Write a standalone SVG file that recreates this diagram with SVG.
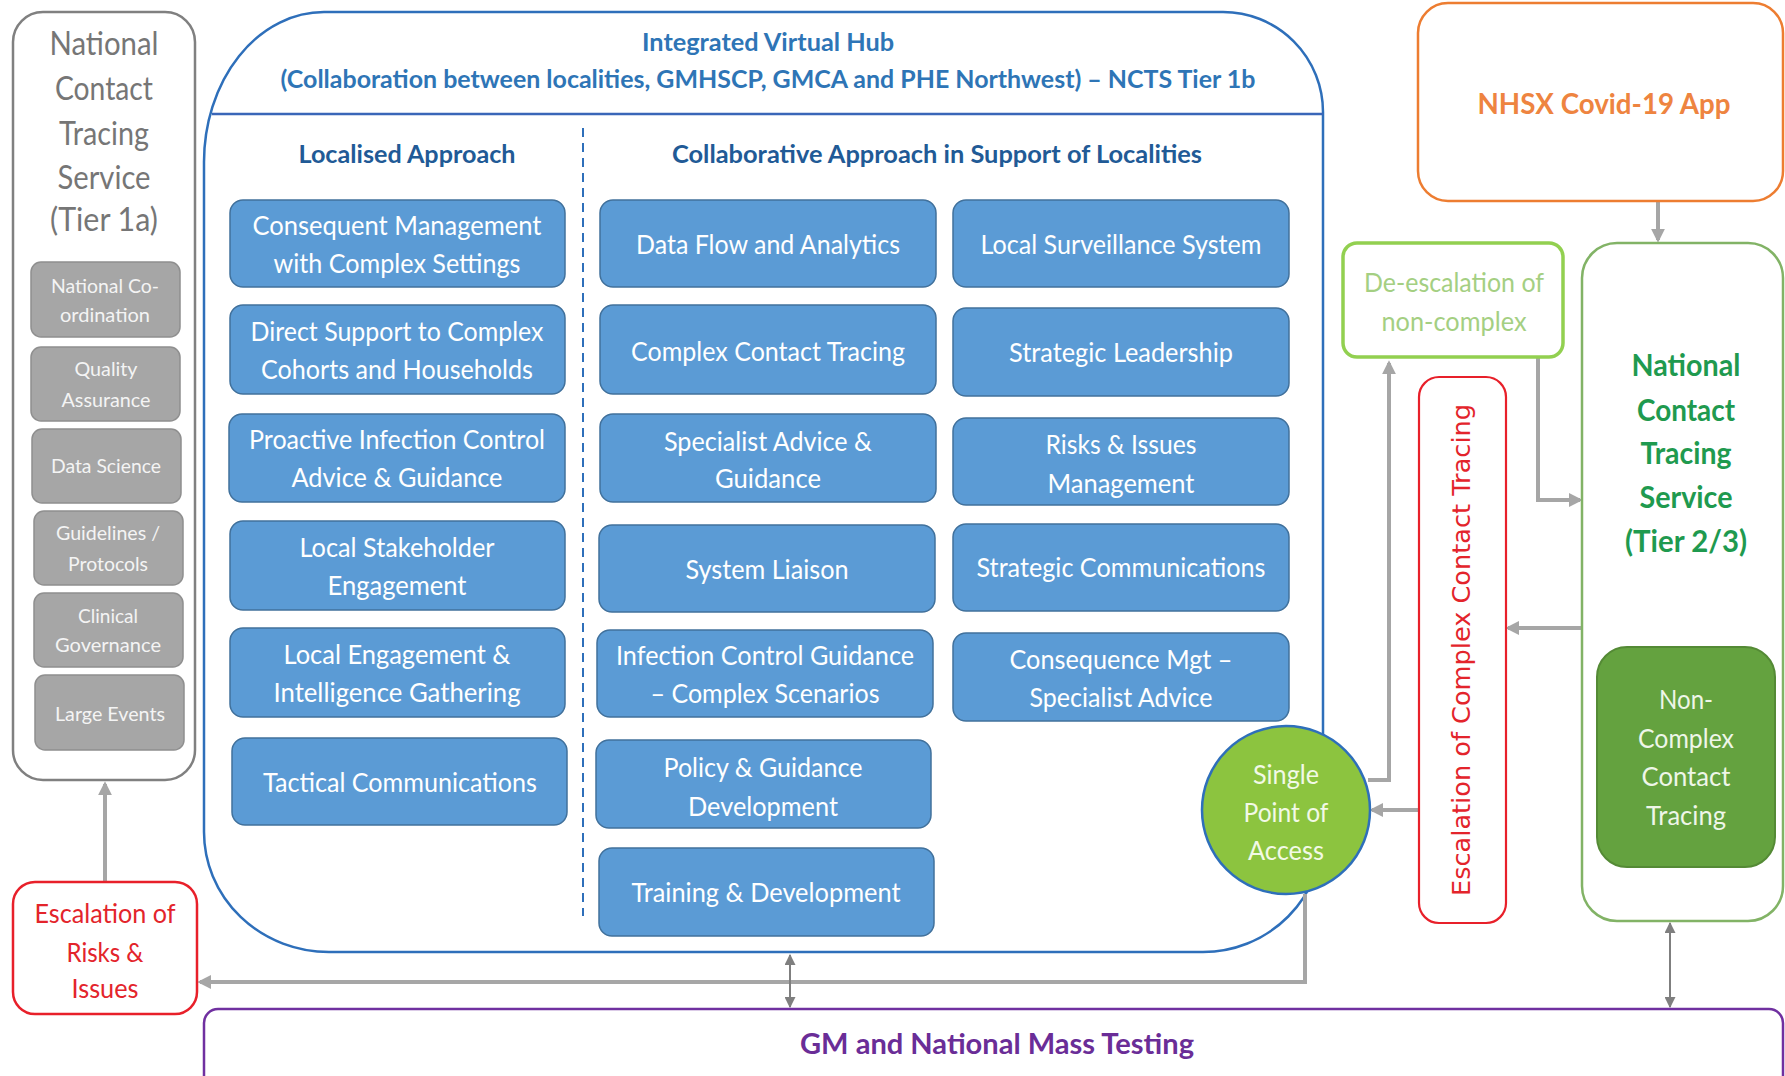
<svg xmlns="http://www.w3.org/2000/svg" width="1785" height="1076" viewBox="0 0 1785 1076">
<style>
  text { font-family: Lato, "Liberation Sans", sans-serif; text-anchor: middle; }
  .bt { font-size: 27.5px; fill: #ffffff; }
  .gt { font-size: 20px; fill: #f4f4f4; }
  .bb { fill: #5b9bd5; stroke: #41719c; stroke-width: 1.5; }
  .gb { fill: #a6a6a6; stroke: #8f8f8f; stroke-width: 1.5; }
  .hd { font-size: 25px; font-weight: bold; fill: #2e75b6; }
  .sh { font-size: 25px; font-weight: bold; fill: #215a96; }
  .conn { fill: none; stroke: #a6a6a6; stroke-width: 4; }
  .dbl { fill: none; stroke: #7f7f7f; stroke-width: 2; }
</style>
<defs>
  <marker id="ah" viewBox="0 0 10 10" refX="8" refY="5" markerWidth="14" markerHeight="14" markerUnits="userSpaceOnUse" orient="auto-start-reverse">
    <path d="M0,0 L10,5 L0,10 z" fill="#a6a6a6"/>
  </marker>
  <marker id="ad" viewBox="0 0 10 10" refX="9" refY="5" markerWidth="11" markerHeight="11" markerUnits="userSpaceOnUse" orient="auto-start-reverse">
    <path d="M0,0 L10,5 L0,10 z" fill="#7f7f7f"/>
  </marker>
</defs>
<rect width="1785" height="1076" fill="#ffffff"/>

<!-- Left: National Contact Tracing Service Tier 1a -->
<g id="nctsTier1a">
  <rect x="13" y="12" width="182" height="768" rx="30" fill="#ffffff" stroke="#808080" stroke-width="2.5"/>
  <text x="104" y="55" style="font-size:32px;fill:#767676" textLength="109" lengthAdjust="spacingAndGlyphs">National</text>
  <text x="104" y="100" style="font-size:32px;fill:#767676" textLength="98" lengthAdjust="spacingAndGlyphs">Contact</text>
  <text x="104" y="145" style="font-size:32px;fill:#767676" textLength="90" lengthAdjust="spacingAndGlyphs">Tracing</text>
  <text x="104" y="189" style="font-size:32px;fill:#767676" textLength="93" lengthAdjust="spacingAndGlyphs">Service</text>
  <text x="104" y="231" style="font-size:32px;fill:#767676" textLength="108" lengthAdjust="spacingAndGlyphs">(Tier 1a)</text>
</g>
<g id="natCoord"><rect class="gb" x="31" y="262" width="149" height="75" rx="10"/>
  <text class="gt" x="105" y="293" textLength="108" lengthAdjust="spacingAndGlyphs">National Co-</text>
  <text class="gt" x="105" y="322" textLength="90" lengthAdjust="spacingAndGlyphs">ordination</text></g>
<g id="quality"><rect class="gb" x="31" y="347" width="149" height="74" rx="10"/>
  <text class="gt" x="106" y="376" textLength="63" lengthAdjust="spacingAndGlyphs">Quality</text>
  <text class="gt" x="106" y="407" textLength="89" lengthAdjust="spacingAndGlyphs">Assurance</text></g>
<g id="dataSci"><rect class="gb" x="32" y="429" width="149" height="74" rx="10"/>
  <text class="gt" x="106" y="473" textLength="110" lengthAdjust="spacingAndGlyphs">Data Science</text></g>
<g id="guidelines"><rect class="gb" x="34" y="511" width="149" height="74" rx="10"/>
  <text class="gt" x="108" y="540" textLength="104" lengthAdjust="spacingAndGlyphs">Guidelines /</text>
  <text class="gt" x="108" y="571" textLength="80" lengthAdjust="spacingAndGlyphs">Protocols</text></g>
<g id="clinical"><rect class="gb" x="34" y="593" width="149" height="74" rx="10"/>
  <text class="gt" x="108" y="623" textLength="60" lengthAdjust="spacingAndGlyphs">Clinical</text>
  <text class="gt" x="108" y="652" textLength="106" lengthAdjust="spacingAndGlyphs">Governance</text></g>
<g id="largeEvents"><rect class="gb" x="35" y="675" width="149" height="75" rx="10"/>
  <text class="gt" x="110" y="721" textLength="110" lengthAdjust="spacingAndGlyphs">Large Events</text></g>

<!-- Integrated Virtual Hub container -->
<g id="hub">
  <path d="M324 12 H1223 A100 100 0 0 1 1323 112 V831 A120 120 0 0 1 1203 952 H329 A125 120 0 0 1 204 832 V162 A120 150 0 0 1 324 12 Z" fill="#ffffff" stroke="#2e6fba" stroke-width="2.5"/>
  <line x1="212" y1="114" x2="1323" y2="114" stroke="#3a66b8" stroke-width="2.5"/>
  <line x1="583" y1="128" x2="583" y2="916" stroke="#2e6fba" stroke-width="2" stroke-dasharray="9 6"/>
  <text class="hd" x="768" y="51" textLength="252" lengthAdjust="spacingAndGlyphs">Integrated Virtual Hub</text>
  <text class="hd" x="768" y="88" textLength="975" lengthAdjust="spacingAndGlyphs">(Collaboration between localities, GMHSCP, GMCA and PHE Northwest) – NCTS Tier 1b</text>
  <text class="sh" x="407" y="163" textLength="217" lengthAdjust="spacingAndGlyphs">Localised Approach</text>
  <text class="sh" x="937" y="163" textLength="530" lengthAdjust="spacingAndGlyphs">Collaborative Approach in Support of Localities</text>
</g>

<!-- Localised column -->
<g id="consequentMgmt"><rect class="bb" x="230" y="200" width="335" height="87" rx="13"/>
  <text class="bt" x="397" y="235" textLength="289" lengthAdjust="spacingAndGlyphs">Consequent Management</text>
  <text class="bt" x="397" y="273" textLength="247" lengthAdjust="spacingAndGlyphs">with Complex Settings</text></g>
<g id="directSupport"><rect class="bb" x="230" y="305" width="335" height="89" rx="13"/>
  <text class="bt" x="397" y="341" textLength="293" lengthAdjust="spacingAndGlyphs">Direct Support to Complex</text>
  <text class="bt" x="397" y="379" textLength="272" lengthAdjust="spacingAndGlyphs">Cohorts and Households</text></g>
<g id="proactiveIC"><rect class="bb" x="229" y="414" width="336" height="88" rx="13"/>
  <text class="bt" x="397" y="449" textLength="296" lengthAdjust="spacingAndGlyphs">Proactive Infection Control</text>
  <text class="bt" x="397" y="487" textLength="211" lengthAdjust="spacingAndGlyphs">Advice &amp; Guidance</text></g>
<g id="localStakeholder"><rect class="bb" x="230" y="521" width="335" height="89" rx="13"/>
  <text class="bt" x="397" y="557" textLength="195" lengthAdjust="spacingAndGlyphs">Local Stakeholder</text>
  <text class="bt" x="397" y="595" textLength="139" lengthAdjust="spacingAndGlyphs">Engagement</text></g>
<g id="localEngagement"><rect class="bb" x="230" y="628" width="335" height="89" rx="13"/>
  <text class="bt" x="397" y="664" textLength="227" lengthAdjust="spacingAndGlyphs">Local Engagement &amp;</text>
  <text class="bt" x="397" y="702" textLength="247" lengthAdjust="spacingAndGlyphs">Intelligence Gathering</text></g>
<g id="tacticalComms"><rect class="bb" x="232" y="738" width="335" height="87" rx="13"/>
  <text class="bt" x="400" y="792" textLength="274" lengthAdjust="spacingAndGlyphs">Tactical Communications</text></g>

<!-- Collaborative middle column -->
<g id="dataFlow"><rect class="bb" x="600" y="200" width="336" height="87" rx="13"/>
  <text class="bt" x="768" y="254" textLength="264" lengthAdjust="spacingAndGlyphs">Data Flow and Analytics</text></g>
<g id="complexCT"><rect class="bb" x="600" y="305" width="336" height="89" rx="13"/>
  <text class="bt" x="768" y="361" textLength="274" lengthAdjust="spacingAndGlyphs">Complex Contact Tracing</text></g>
<g id="specialistAdvice"><rect class="bb" x="600" y="414" width="336" height="88" rx="13"/>
  <text class="bt" x="768" y="451" textLength="208" lengthAdjust="spacingAndGlyphs">Specialist Advice &amp;</text>
  <text class="bt" x="768" y="488" textLength="106" lengthAdjust="spacingAndGlyphs">Guidance</text></g>
<g id="systemLiaison"><rect class="bb" x="599" y="525" width="336" height="87" rx="13"/>
  <text class="bt" x="767" y="579" textLength="163" lengthAdjust="spacingAndGlyphs">System Liaison</text></g>
<g id="infectionControl"><rect class="bb" x="597" y="630" width="336" height="87" rx="13"/>
  <text class="bt" x="765" y="665" textLength="298" lengthAdjust="spacingAndGlyphs">Infection Control Guidance</text>
  <text class="bt" x="765" y="703" textLength="229" lengthAdjust="spacingAndGlyphs">– Complex Scenarios</text></g>
<g id="policyGuidance"><rect class="bb" x="596" y="740" width="335" height="88" rx="13"/>
  <text class="bt" x="763" y="777" textLength="199" lengthAdjust="spacingAndGlyphs">Policy &amp; Guidance</text>
  <text class="bt" x="763" y="816" textLength="150" lengthAdjust="spacingAndGlyphs">Development</text></g>
<g id="training"><rect class="bb" x="599" y="848" width="335" height="88" rx="13"/>
  <text class="bt" x="766" y="902" textLength="269" lengthAdjust="spacingAndGlyphs">Training &amp; Development</text></g>

<!-- Collaborative right column -->
<g id="surveillance"><rect class="bb" x="953" y="200" width="336" height="87" rx="13"/>
  <text class="bt" x="1121" y="254" textLength="281" lengthAdjust="spacingAndGlyphs">Local Surveillance System</text></g>
<g id="strategicLeadership"><rect class="bb" x="953" y="308" width="336" height="88" rx="13"/>
  <text class="bt" x="1121" y="362" textLength="224" lengthAdjust="spacingAndGlyphs">Strategic Leadership</text></g>
<g id="risksIssues"><rect class="bb" x="953" y="418" width="336" height="87" rx="13"/>
  <text class="bt" x="1121" y="454" textLength="151" lengthAdjust="spacingAndGlyphs">Risks &amp; Issues</text>
  <text class="bt" x="1121" y="493" textLength="147" lengthAdjust="spacingAndGlyphs">Management</text></g>
<g id="strategicComms"><rect class="bb" x="953" y="524" width="336" height="87" rx="13"/>
  <text class="bt" x="1121" y="577" textLength="289" lengthAdjust="spacingAndGlyphs">Strategic Communications</text></g>
<g id="consequenceMgt"><rect class="bb" x="953" y="633" width="336" height="88" rx="13"/>
  <text class="bt" x="1121" y="669" textLength="223" lengthAdjust="spacingAndGlyphs">Consequence Mgt –</text>
  <text class="bt" x="1121" y="707" textLength="183" lengthAdjust="spacingAndGlyphs">Specialist Advice</text></g>

<!-- Connectors -->
<g id="connectors">
  <path class="conn" d="M1305 894 V982 H200" marker-end="url(#ah)"/>
  <path class="conn" d="M105 882 V784" marker-end="url(#ah)"/>
  <path class="conn" d="M1658 202 V240" marker-end="url(#ah)"/>
  <path class="conn" d="M1368 780 H1389 V363" marker-end="url(#ah)"/>
  <path class="conn" d="M1538 357 V500 H1580" marker-end="url(#ah)"/>
  <path class="conn" d="M1582 628 H1508" marker-end="url(#ah)"/>
  <path class="conn" d="M1418 810 H1372" marker-end="url(#ah)"/>
  <path class="dbl" d="M790 955 V1007" marker-start="url(#ad)" marker-end="url(#ad)"/>
  <path class="dbl" d="M1670 923 V1007" marker-start="url(#ad)" marker-end="url(#ad)"/>
</g>

<!-- Single Point of Access -->
<g id="singlePoint">
  <circle cx="1286" cy="810" r="84" fill="#8cc43f" stroke="#2e6fba" stroke-width="2.5"/>
  <text class="bt" x="1286" y="784" style="fill:#f2f9e6" textLength="66" lengthAdjust="spacingAndGlyphs">Single</text>
  <text class="bt" x="1286" y="822" style="fill:#f2f9e6" textLength="85" lengthAdjust="spacingAndGlyphs">Point of</text>
  <text class="bt" x="1286" y="860" style="fill:#f2f9e6" textLength="76" lengthAdjust="spacingAndGlyphs">Access</text>
</g>

<!-- Escalation of Risks & Issues -->
<g id="escalationRisks">
  <rect x="13" y="882" width="184" height="132" rx="22" fill="#ffffff" stroke="#e8202a" stroke-width="2.5"/>
  <text x="105" y="923" style="font-size:27.5px;fill:#e3242b" textLength="141" lengthAdjust="spacingAndGlyphs">Escalation of</text>
  <text x="105" y="962" style="font-size:27.5px;fill:#e3242b" textLength="77" lengthAdjust="spacingAndGlyphs">Risks &amp;</text>
  <text x="105" y="998" style="font-size:27.5px;fill:#e3242b" textLength="67" lengthAdjust="spacingAndGlyphs">Issues</text>
</g>

<!-- GM and National Mass Testing -->
<g id="massTesting">
  <rect x="204" y="1009" width="1579" height="100" rx="14" fill="#ffffff" stroke="#7030a0" stroke-width="2.5"/>
  <text x="997" y="1054" style="font-size:28px;font-weight:bold;fill:#6a2d97" textLength="394" lengthAdjust="spacingAndGlyphs">GM and National Mass Testing</text>
</g>

<!-- NHSX Covid-19 App -->
<g id="nhsxApp">
  <rect x="1418" y="3" width="365" height="198" rx="30" fill="#ffffff" stroke="#ed7d31" stroke-width="2.5"/>
  <text x="1604" y="114" style="font-size:29px;font-weight:bold;fill:#ee8440" textLength="253" lengthAdjust="spacingAndGlyphs">NHSX Covid-19 App</text>
</g>

<!-- De-escalation of non-complex -->
<g id="deEscalation">
  <rect x="1343" y="243" width="220" height="114" rx="14" fill="#ffffff" stroke="#92d050" stroke-width="3.5"/>
  <text x="1454" y="292" style="font-size:26.5px;fill:#a4cf82" textLength="180" lengthAdjust="spacingAndGlyphs">De-escalation of</text>
  <text x="1454" y="331" style="font-size:26.5px;fill:#a4cf82" textLength="145" lengthAdjust="spacingAndGlyphs">non-complex</text>
</g>

<!-- Escalation of Complex Contact Tracing -->
<g id="escalationComplex">
  <rect x="1419" y="377" width="87" height="546" rx="20" fill="#ffffff" stroke="#e8202a" stroke-width="2.2"/>
  <text transform="translate(1461,650) rotate(-90)" x="0" y="9" style="font-family:'DejaVu Sans',sans-serif;font-size:25px;fill:#e3242b" textLength="492" lengthAdjust="spacingAndGlyphs">Escalation of Complex Contact Tracing</text>
</g>

<!-- National Contact Tracing Service Tier 2/3 -->
<g id="nctsTier23">
  <rect x="1582" y="243" width="201" height="678" rx="35" fill="#ffffff" stroke="#82b366" stroke-width="2.5"/>
  <text x="1686" y="376" style="font-size:31px;font-weight:bold;fill:#1f9a4f" textLength="109" lengthAdjust="spacingAndGlyphs">National</text>
  <text x="1686" y="421" style="font-size:31px;font-weight:bold;fill:#1f9a4f" textLength="98" lengthAdjust="spacingAndGlyphs">Contact</text>
  <text x="1686" y="464" style="font-size:31px;font-weight:bold;fill:#1f9a4f" textLength="91" lengthAdjust="spacingAndGlyphs">Tracing</text>
  <text x="1686" y="508" style="font-size:31px;font-weight:bold;fill:#1f9a4f" textLength="93" lengthAdjust="spacingAndGlyphs">Service</text>
  <text x="1686" y="552" style="font-size:31px;font-weight:bold;fill:#1f9a4f" textLength="122" lengthAdjust="spacingAndGlyphs">(Tier 2/3)</text>
</g>
<g id="nonComplex">
  <rect x="1597" y="647" width="178" height="220" rx="30" fill="#64a23f" stroke="#548a35" stroke-width="2"/>
  <text class="bt" x="1686" y="709" style="fill:#eef6e8" textLength="54" lengthAdjust="spacingAndGlyphs">Non-</text>
  <text class="bt" x="1686" y="748" style="fill:#eef6e8" textLength="96" lengthAdjust="spacingAndGlyphs">Complex</text>
  <text class="bt" x="1686" y="786" style="fill:#eef6e8" textLength="89" lengthAdjust="spacingAndGlyphs">Contact</text>
  <text class="bt" x="1686" y="825" style="fill:#eef6e8" textLength="80" lengthAdjust="spacingAndGlyphs">Tracing</text>
</g>
</svg>
